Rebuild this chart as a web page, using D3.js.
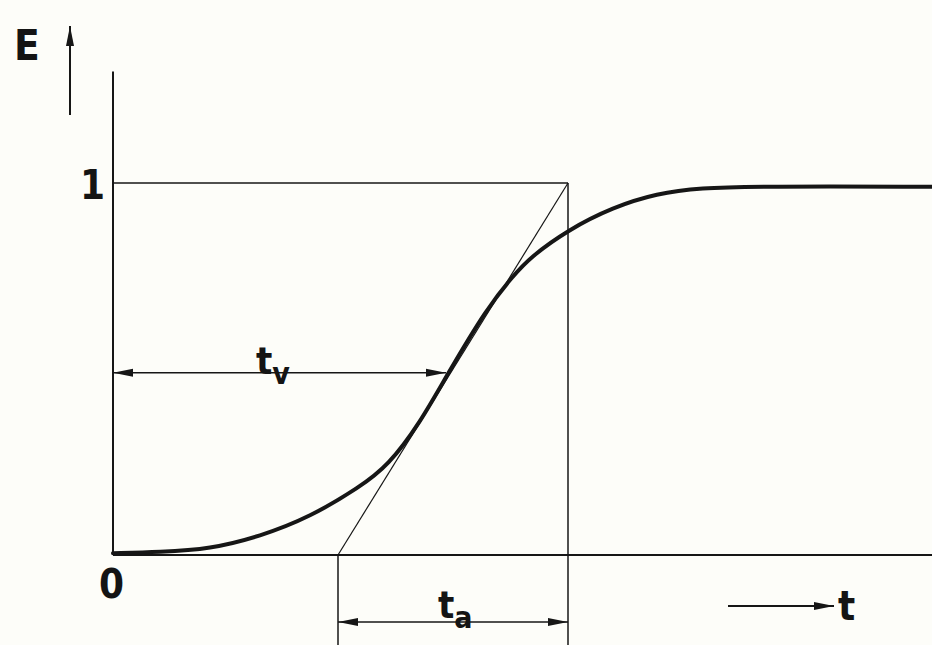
<!DOCTYPE html>
<html lang="en">
<head>
  <meta charset="UTF-8">
  <title>E(t) – S-curve with t_v and t_a</title>
  <script src="https://d3js.org/d3.v7.min.js"></script>
  <style>
    html, body {
      margin: 0;
      padding: 0;
      background: #fdfdf9;
    }
    svg {
      display: block;
      background: #fdfdf9;
    }
    text {
      font-family: "DejaVu Sans Condensed", "DejaVu Sans", Arial, sans-serif;
      font-weight: bold;
      fill: #141414;
    }
  </style>
</head>
<body>
  <svg width="932" height="645"></svg>

<script>
  // curve (t in arbitrary units, E normalised)
  const curveT = [0, 0.47, 0.97, 1.47, 1.97, 2.47, 2.75, 3.07, 3.34, 3.74, 4.00, 4.17, 4.55, 5.00, 5.44, 5.87, 6.47, 8.19];
  const curveE = [0.005, 0.008, 0.016, 0.050, 0.102, 0.183, 0.240, 0.355, 0.484, 0.664, 0.750, 0.800, 0.874, 0.935, 0.972, 0.987, 0.991, 0.99];

  // tangent through the inflection point
  const tangentT = [2.25, 4.55];
  const tangentE = [0, 1];

  // dimension arrows
  const tvRange = [0, 3.33], tvLevel = 0.49;
  const taRange = [2.25, 4.55], taLevel = -0.18;

  const tMax = 8.19;
  const eTop = 1.3, eBottom = -0.25;

  const svg = d3.select("svg"),
        ink = "#161616";

  const x = d3.scaleLinear().domain([0, tMax]).range([113, 932]);
  const y = d3.scaleLinear().domain([0, 1]).range([555, 183]);

  svg.append("defs").append("marker")
    .attr("id", "head")
    .attr("viewBox", "0 0 20 10")
    .attr("refX", 20).attr("refY", 5)
    .attr("markerWidth", 20).attr("markerHeight", 10)
    .attr("markerUnits", "userSpaceOnUse")
    .attr("orient", "auto-start-reverse")
    .append("path")
    .attr("d", "M0,1 L20,5 L0,9 Z")
    .attr("fill", ink);

  const line = (x1, y1, x2, y2, w) => svg.append("line")
    .attr("x1", x1).attr("y1", y1).attr("x2", x2).attr("y2", y2)
    .attr("stroke", ink).attr("stroke-width", w);

  // axes
  line(x(0), y(eTop), x(0), y(0), 2);
  line(x(0), y(0), x(tMax), y(0), 2);

  // E = 1 reference line
  line(x(0), y(1), x(tangentT[1]), y(1), 1.5);

  // tangent and its vertical drops
  line(x(tangentT[0]), y(tangentE[0]), x(tangentT[1]), y(tangentE[1]), 1.2);
  line(x(tangentT[0]), y(0), x(tangentT[0]), y(eBottom), 1.5);
  line(x(tangentT[1]), y(1), x(tangentT[1]), y(eBottom), 1.5);

  // the S-curve (basis spline smooths the hand-read points)
  const pts = curveT.map((t, i) => [t, curveE[i]]);
  svg.append("path")
    .datum(pts)
    .attr("fill", "none")
    .attr("stroke", ink)
    .attr("stroke-width", 4)
    .attr("stroke-linecap", "round")
    .attr("d", d3.line().x(d => x(d[0])).y(d => y(d[1])).curve(d3.curveBasis));

  // dimension arrows
  line(x(tvRange[0]), y(tvLevel), x(tvRange[1]), y(tvLevel), 1.5)
    .attr("marker-start", "url(#head)").attr("marker-end", "url(#head)");
  line(x(taRange[0]), y(taLevel), x(taRange[1]), y(taLevel), 1.5)
    .attr("marker-start", "url(#head)").attr("marker-end", "url(#head)");

  // axis direction arrows
  line(70, 115, 70, 26, 2).attr("marker-end", "url(#head)");
  line(728, 606, 834, 606, 2).attr("marker-end", "url(#head)");

  // labels
  const label = (tx, ty, s, size) => svg.append("text")
    .attr("x", tx).attr("y", ty)
    .style("font-size", size + "px")
    .text(s);

  label(14, 60, "E", 42);
  label(80, 199, "1", 40);
  label(99, 598, "0", 40);
  label(838, 620, "t", 40);

  const tv = label(256, 374, "t", 38);
  tv.append("tspan").attr("dy", 10).style("font-size", "30px").text("v");
  const ta = label(438, 618, "t", 38);
  ta.append("tspan").attr("dy", 10).style("font-size", "30px").text("a");
</script>

</body>
</html>
